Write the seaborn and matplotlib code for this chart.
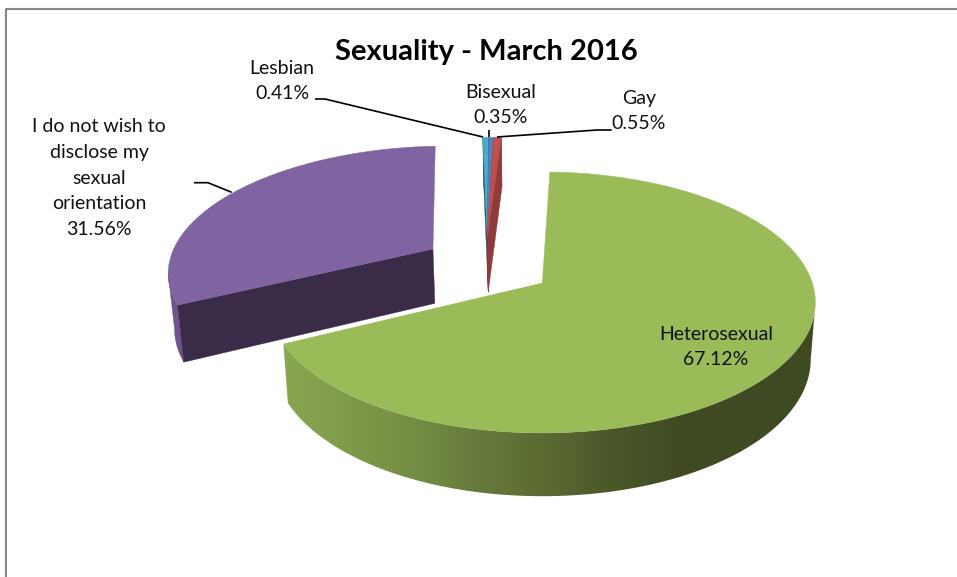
#!/usr/bin/env python3
"""Sexuality - March 2016, exploded 3D pie drawn by hand on a flat matplotlib axis."""

import matplotlib

matplotlib.use("Agg")
import matplotlib.pyplot as plt
import numpy as np
import seaborn as sns
from matplotlib.patches import PathPatch, Polygon
from matplotlib.path import Path

categories = ["Bisexual", "Gay", "Heterosexual", "I do not wish to\ndisclose my\nsexual\norientation", "Lesbian"]
values = [0.35, 0.55, 67.12, 31.56, 0.41]
title = "Sexuality - March 2016"

TOP_COLORS = ["#4F81BD", "#C0504D", "#9BBB59", "#8064A2", "#4BACC6"]
FACE_COLORS = ["#2C4A6E", "#8E3B39", "#4F5E2C", "#3A2B48", "#1F5263"]
# explode offsets in disc units (x, back)
EXPLODE = [(-0.215, 0.37), (-0.215, 0.37), (0.0, 0.0), (-0.4217, 0.2776), (-0.215, 0.37)]

# projection of the disc, in pixels of the original picture
CX, CY = 542.3, 283.0
RX, RY = 270.0, 127.6
PERSP = 0.149
BOTTOM_SCALE = 0.983
DEPTH = 56.0
START = -1.4

LABEL_POS = [(501, 105), (639, 111), (716, 347), (99, 178), (282, 81)]
LEADERS = [
    [(489, 130), (489, 137)],
    [(611.7, 130), (597, 130), (497, 137)],
    None,
    [(194, 182.7), (208, 182.7), (231.7, 192.3)],
    [(315, 99), (325, 99), (483, 137)],
]


def project(u, v):
    s = 1 / (1 + PERSP * v)
    return CX + RX * u * s, CY - RY * v * s, s


def drop(u, v):
    x, y, s = project(u, v)
    return CX + (x - CX) * BOTTOM_SCALE, CY + (y - CY) * BOTTOM_SCALE + DEPTH * s


def rim(theta1, theta2, offset):
    t = np.radians(np.linspace(theta1, theta2, max(int(theta2 - theta1) * 2, 8)))
    return np.sin(t) + offset[0], np.cos(t) + offset[1]


def draw_slice(ax, theta1, theta2, offset, top, face, wall_cmap=None, wall_color=None):
    u, v = rim(theta1, theta2, offset)
    x_top, y_top, _ = project(u, v)
    x_bot, y_bot = drop(u, v)
    ax_top, ay_top, _ = project(*offset)
    ax_bot, ay_bot = drop(*offset)

    # outer wall, cut at the silhouette so the side edge runs straight
    top_pts, bot_pts = np.c_[x_top, y_top], np.c_[x_bot, y_bot]
    if theta1 < 90 < theta2:
        top_pts, bot_pts = top_pts[np.argmax(x_top):], bot_pts[np.argmax(x_bot):]
    elif theta1 < 270 < theta2:
        top_pts, bot_pts = top_pts[:np.argmin(x_top) + 1], bot_pts[:np.argmin(x_bot) + 1]
    wall = np.r_[top_pts, bot_pts[::-1]]
    if wall_cmap is not None:
        grad = np.linspace(0, 1, 512)[None, :]
        im = ax.imshow(grad, cmap=wall_cmap, aspect="auto", zorder=ax.zindex,
                       extent=(x_top.min(), x_top.max(), 577, 0))
        clip = PathPatch(Path(wall), transform=ax.transData, facecolor="none", edgecolor="none")
        ax.add_patch(clip)
        im.set_clip_path(clip)
    else:
        ax.add_patch(Polygon(wall, closed=True, fc=wall_color, ec=wall_color, lw=0.3, zorder=ax.zindex))

    # radial faces: both on the slivers, the front one on the purple slice, none on green
    span = theta2 - theta1
    faces = (0, -1) if span < 10 else ((0,) if span < 150 else ())
    for i in faces:
        quad = [(ax_top, ay_top), (x_top[i], y_top[i]), (x_bot[i], y_bot[i]), (ax_bot, ay_bot)]
        ax.add_patch(Polygon(quad, closed=True, fc=face, ec=face, lw=0.3, zorder=ax.zindex))

    outline = np.r_[[(ax_top, ay_top)], np.c_[x_top, y_top]]
    ax.add_patch(Polygon(outline, closed=True, fc=top, ec=top, lw=0.3, zorder=ax.zindex + 0.1))
    ax.zindex += 1


def main():
    sns.set_theme(style="white")
    plt.rcParams["font.family"] = ["Lato", "DejaVu Sans"]
    fig = plt.figure(figsize=(9.57, 5.77), dpi=100)
    ax = fig.add_axes([0, 0, 1, 1])
    ax.zindex = 2

    angles = START + np.cumsum([0] + values) * 360 / sum(values)
    green_wall = sns.blend_palette(
        ["#8AA650", "#7F9A4A", "#748C43", "#66793B", "#5A6A33", "#4A5729", "#3F4A22", "#3F4A22", "#3F4A22"],
        as_cmap=True,
    )

    # back to front: purple, slivers, green
    order = [3, 4, 0, 1, 2]
    for i in order:
        cmap = green_wall if i == 2 else None
        wall_color = "#6F558C" if i == 3 else FACE_COLORS[i]
        draw_slice(ax, angles[i], angles[i + 1], EXPLODE[i], TOP_COLORS[i], FACE_COLORS[i], cmap, wall_color)

    for pts in LEADERS:
        if pts:
            ax.plot(*zip(*pts), color="black", lw=1.2, zorder=30, solid_capstyle="butt")

    for name, val, (x, y) in zip(categories, values, LABEL_POS):
        ax.text(x, y, f"{name}\n{val:.2f}%", ha="center", va="center", fontsize=14, color="#111111",
                linespacing=1.62, zorder=31)

    ax.text(486, 52, title, ha="center", va="center", fontsize=21, fontweight="bold", color="black", zorder=31)

    ax.plot([6, 6, 957], [577, 9, 9], color="#868686", lw=1.5, zorder=40)
    ax.set_xlim(0, 957)
    ax.set_ylim(577, 0)
    ax.axis("off")
    fig.savefig("out.png", dpi=100, facecolor="white")
    plt.close(fig)


if __name__ == "__main__":
    main()
